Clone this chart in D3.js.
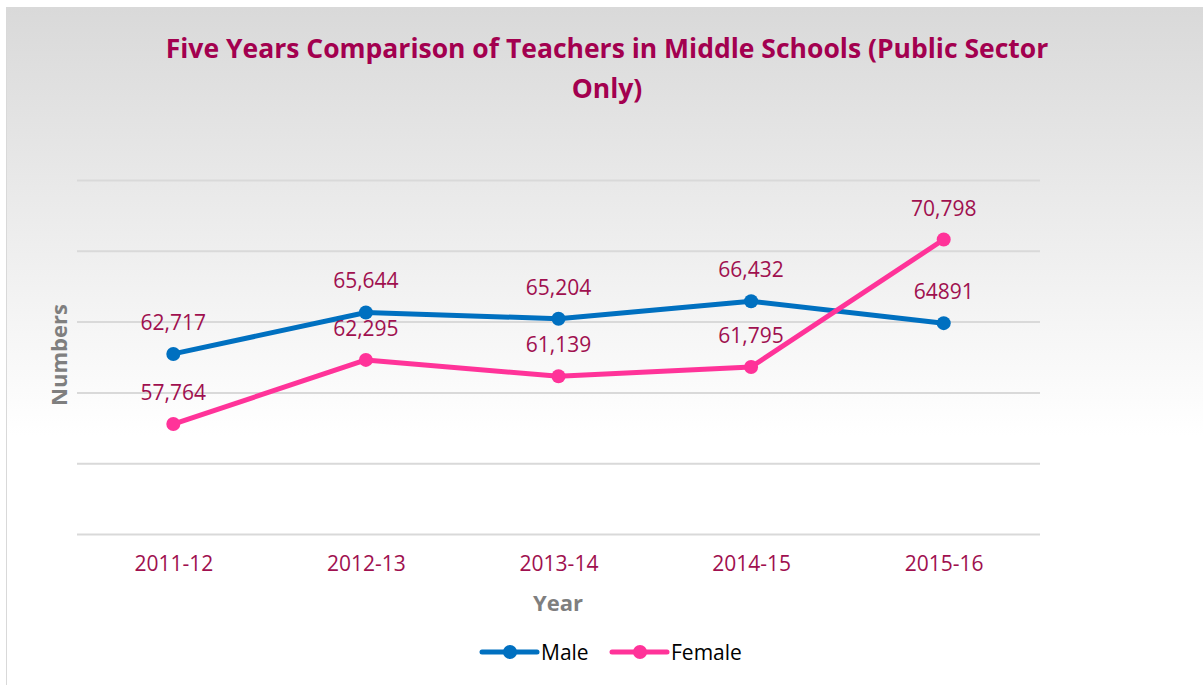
<html>
<meta charset="utf-8" />
<head>
<title>Five Years Comparison of Teachers in Middle Schools</title>
<style>
body { margin: 0; background: #fff; }
svg { display: block; }
svg text { font-family: "Open Sans", sans-serif; }
</style>
<script src="https://cdn.jsdelivr.net/npm/d3@7/dist/d3.min.js"></script>
</head>
<body>
<svg class="chart"></svg>
<script>
var chartWidth = 1203;
var chartHeight = 685;

// data
var years = ["2011-12", "2012-13", "2013-14", "2014-15", "2015-16"];
var maleValues = [62717, 65644, 65204, 66432, 64891];
var femaleValues = [57764, 62295, 61139, 61795, 70798];
var maleLabels = ["62,717", "65,644", "65,204", "66,432", "64891"];
var femaleLabels = ["57,764", "62,295", "61,139", "61,795", "70,798"];
var yTicks = [50000, 55000, 60000, 65000, 70000, 75000];

var series = [
  { name: "Male", values: maleValues, labels: maleLabels, color: "#0070c0" },
  { name: "Female", values: femaleValues, labels: femaleLabels, color: "#ff3399" }
];

var svg = d3.select(".chart")
    .attr("width", chartWidth)
    .attr("height", chartHeight);

// background gradient
var grad = svg.append("defs").append("linearGradient")
    .attr("id", "bg")
    .attr("x1", 0).attr("y1", 0).attr("x2", 0).attr("y2", 1);
grad.append("stop").attr("offset", "0%").attr("stop-color", "#d9d9d9");
grad.append("stop").attr("offset", "62%").attr("stop-color", "#ffffff");
grad.append("stop").attr("offset", "100%").attr("stop-color", "#ffffff");

svg.append("rect")
    .attr("x", 6.5).attr("y", 7.5)
    .attr("width", 1210).attr("height", 690)
    .attr("fill", "url(#bg)")
    .attr("stroke", "#d9d9d9")
    .attr("stroke-width", 1);

// scales
var x = d3.scalePoint()
    .domain(years)
    .range([77, 1040])
    .padding(0.5);

var y = d3.scaleLinear()
    .domain([50000, 75000])
    .range([534, 180]);

// gridlines
var yAxis = d3.axisLeft(y)
    .tickValues(yTicks)
    .tickSize(-(1040 - 77))
    .tickFormat("");

var grid = svg.append("g")
    .attr("transform", "translate(77,0)")
    .call(yAxis);
grid.select(".domain").remove();
grid.selectAll(".tick line")
    .attr("stroke", "#d9d9d9")
    .attr("stroke-width", 2);

// x axis labels
var xAxis = d3.axisBottom(x).tickSize(0).tickPadding(22);
var xg = svg.append("g")
    .attr("transform", "translate(0,534)")
    .call(xAxis);
xg.select(".domain").remove();
xg.selectAll("text")
    .attr("font-size", 21)
    .attr("font-family", "Open Sans, sans-serif")
    .attr("fill", "#a0104f");

// title
svg.append("text")
    .attr("x", 607).attr("y", 58)
    .attr("text-anchor", "middle")
    .attr("font-size", 26.5).attr("font-weight", "bold")
    .attr("fill", "#a3004f")
    .text("Five Years Comparison of Teachers in Middle Schools (Public Sector");
svg.append("text")
    .attr("x", 607).attr("y", 98)
    .attr("text-anchor", "middle")
    .attr("font-size", 26.5).attr("font-weight", "bold")
    .attr("fill", "#a3004f")
    .text("Only)");

// axis titles
svg.append("text")
    .attr("x", 558).attr("y", 611)
    .attr("text-anchor", "middle")
    .attr("font-size", 22).attr("font-weight", "bold")
    .attr("fill", "#7f7f7f")
    .text("Year");

svg.append("text")
    .attr("transform", "translate(67,355) rotate(-90)")
    .attr("text-anchor", "middle")
    .attr("font-size", 22).attr("font-weight", "bold")
    .attr("fill", "#7f7f7f")
    .text("Numbers");

// lines
var line = d3.line()
    .x(function(d, i){ return x(years[i]); })
    .y(function(d){ return y(d); });

series.forEach(function(s){
  svg.append("path")
      .datum(s.values)
      .attr("d", line)
      .attr("fill", "none")
      .attr("stroke", s.color)
      .attr("stroke-width", 5)
      .attr("stroke-linejoin", "round");

  svg.selectAll(null)
      .data(s.values)
      .enter().append("circle")
      .attr("cx", function(d, i){ return x(years[i]); })
      .attr("cy", function(d){ return y(d); })
      .attr("r", 7)
      .attr("fill", s.color);

  svg.selectAll(null)
      .data(s.values)
      .enter().append("text")
      .attr("x", function(d, i){ return x(years[i]); })
      .attr("y", function(d){ return y(d) - 24; })
      .attr("text-anchor", "middle")
      .attr("font-size", 21)
      .attr("fill", "#a0104f")
      .text(function(d, i){ return s.labels[i]; });
});

// legend
var legendX = [482, 612];
var legend = svg.selectAll(".legend")
    .data(series)
    .enter().append("g")
    .attr("transform", function(d, i){ return "translate(" + legendX[i] + ",652)"; });

legend.append("line")
    .attr("x1", 0).attr("x2", 55)
    .attr("stroke", function(d){ return d.color; })
    .attr("stroke-width", 5)
    .attr("stroke-linecap", "round");
legend.append("circle")
    .attr("cx", 28).attr("r", 7)
    .attr("fill", function(d){ return d.color; });
legend.append("text")
    .attr("x", 59).attr("y", 8)
    .attr("font-size", 21)
    .attr("fill", "#000")
    .text(function(d){ return d.name; });
</script>
</body>
</html>
